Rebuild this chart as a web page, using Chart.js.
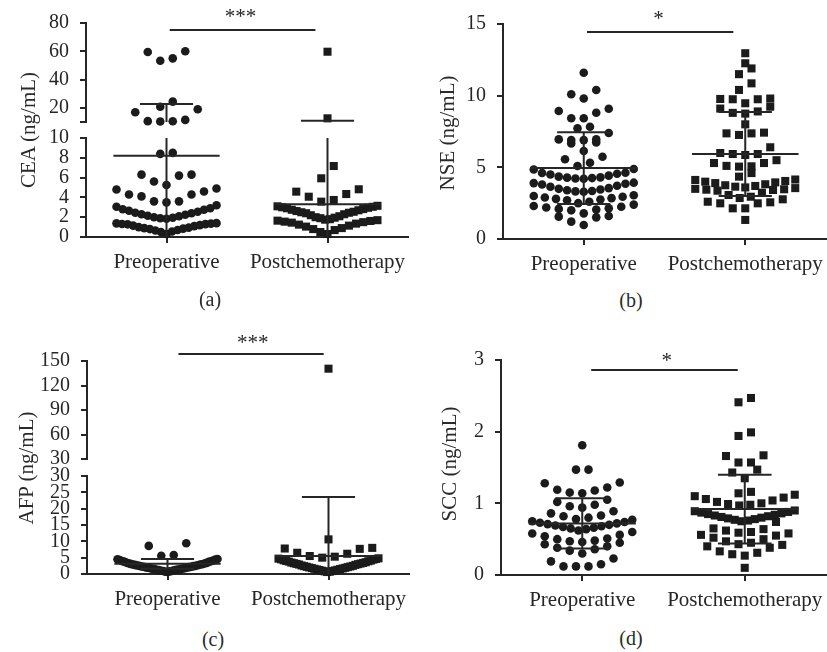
<!DOCTYPE html>
<html><head><meta charset="utf-8">
<script src="https://cdn.jsdelivr.net/npm/chart.js@4.4.1/dist/chart.umd.min.js"></script>
<style>
html,body{margin:0;padding:0;background:#fff;}
body{width:827px;height:652px;overflow:hidden;position:relative;font-family:'Liberation Serif','Times New Roman',serif;}
canvas{position:absolute;}
.lbl{position:absolute;white-space:nowrap;color:#2a2a2a;line-height:1;transform:translate(-50%,-50%);}
.yt{font-size:21px;transform:translate(-50%,-50%) rotate(-90deg);}
.pl{font-size:20px;}
</style></head><body>
<script>
// ---------------- data ----------------
const categories = ['Preoperative', 'Postchemotherapy'];

const ceaPreoperative = [60, 59.5, 55, 53.3, 24.4, 20.8, 19, 16.9, 11.5, 10.6, 10.5, 10.4, 8.5, 8.4, 6.3, 6.3, 6.2, 5.6, 5.25, 4.9, 4.8, 4.6, 4.3, 4.3, 4.1, 3.6, 3.6, 3.5, 3.2, 3.05, 2.9, 2.8, 2.75, 2.65, 2.55, 2.45, 2.4, 2.3, 2.25, 2.15, 2.1, 2.0, 1.95, 1.9, 1.85, 1.4, 1.38, 1.35, 1.32, 1.3, 1.28, 1.2, 1.15, 1.1, 1.0, 0.95, 0.9, 0.85, 0.8, 0.7, 0.65, 0.55, 0.5, 0.3];
const ceaPostchemo = [59.7, 12.6, 7.17, 5.93, 4.82, 4.58, 4.34, 4.07, 3.74, 3.57, 3.15, 3.1, 3.05, 3.0, 2.95, 2.9, 2.82, 2.75, 2.7, 2.62, 2.55, 2.5, 2.45, 2.4, 2.3, 2.2, 2.1, 2.0, 1.95, 1.9, 1.8, 1.75, 1.7, 1.65, 1.62, 1.55, 1.5, 1.45, 1.35, 1.25, 1.15, 1.05, 0.9, 0.8, 0.7, 0.5, 0.3];
const ceaMean = [8.2, 3.3];
const ceaSD = [14.5, 7.6];

const nsePreoperative = [11.6, 10.4, 10.1, 9.8, 9.09, 8.93, 8.81, 8.42, 8.42, 7.83, 7.72, 7.4, 6.95, 6.95, 6.9, 6.9, 6.74, 6.67, 6.14, 5.74, 5.56, 5.32, 5.09, 4.88, 4.85, 4.62, 4.6, 4.55, 4.5, 4.42, 4.35, 4.3, 4.28, 4.25, 4.22, 4.2, 3.93, 3.9, 3.85, 3.8, 3.72, 3.65, 3.55, 3.5, 3.45, 3.4, 3.35, 3.32, 3.3, 3.05, 3.0, 2.95, 2.9, 2.85, 2.8, 2.75, 2.7, 2.6, 2.5, 2.4, 2.3, 2.25, 2.2, 2.15, 2.1, 2.05, 2.0, 1.79, 1.6, 1.56, 1.51, 1.21, 0.98];
const nsePostchemo = [12.96, 12.26, 11.9, 11.5, 10.86, 10.4, 9.8, 9.77, 9.75, 9.75, 9.47, 9.23, 9.1, 8.9, 8.8, 8.75, 8.0, 7.42, 7.37, 7.37, 7.26, 6.4, 6.0, 5.93, 5.93, 5.86, 5.5, 5.3, 5.3, 5.1, 5.07, 5.05, 4.6, 4.35, 4.15, 4.12, 4.05, 4.0, 3.95, 3.9, 3.82, 3.75, 3.7, 3.65, 3.6, 3.55, 3.5, 3.47, 3.44, 3.42, 3.37, 3.23, 3.07, 2.95, 2.86, 2.77, 2.6, 2.56, 2.49, 2.49, 2.14, 2.14, 1.33];
const nseMean = [4.95, 5.93];
const nseSD = [2.5, 2.93];

const afpPreoperative = [9.4, 8.6, 5.8, 5.6, 4.6, 4.5, 4.4, 4.3, 4.1, 4.0, 3.9, 3.8, 3.7, 3.5, 3.4, 3.3, 3.2, 3.1, 3.0, 2.9, 2.9, 2.8, 2.7, 2.6, 2.5, 2.5, 2.4, 2.3, 2.2, 2.2, 2.1, 2.0, 2.0, 1.9, 1.8, 1.8, 1.7, 1.6, 1.5, 1.5, 1.4, 1.3, 1.3, 1.2, 1.1, 1.0, 0.9, 0.9, 0.8, 0.7, 0.6];
const afpPostchemo = [140.6, 10.6, 8.0, 7.8, 7.7, 6.5, 6.2, 5.5, 5.3, 5.0, 4.8, 4.7, 4.6, 4.5, 4.4, 4.2, 4.1, 4.0, 3.9, 3.8, 3.6, 3.5, 3.4, 3.3, 3.2, 3.1, 3.0, 2.9, 2.8, 2.6, 2.5, 2.4, 2.3, 2.2, 2.1, 2.0, 1.9, 1.8, 1.7, 1.6, 1.5, 1.4, 1.3, 1.2, 1.1, 1.0, 0.9, 0.8, 0.7, 0.6];
const afpMean = [3.1, 5.5];
const afpSD = [1.5, 18.1];

const sccPreoperative = [1.81, 1.47, 1.47, 1.29, 1.28, 1.22, 1.19, 1.18, 1.15, 1.14, 1.05, 1.02, 0.98, 0.96, 0.94, 0.89, 0.86, 0.83, 0.82, 0.8, 0.78, 0.77, 0.75, 0.74, 0.73, 0.72, 0.71, 0.7, 0.69, 0.68, 0.67, 0.66, 0.65, 0.64, 0.62, 0.6, 0.58, 0.56, 0.54, 0.51, 0.5, 0.48, 0.47, 0.46, 0.45, 0.43, 0.4, 0.38, 0.36, 0.34, 0.3, 0.23, 0.19, 0.15, 0.12, 0.12, 0.12];
const sccPostchemo = [2.47, 2.41, 1.99, 1.94, 1.67, 1.66, 1.57, 1.57, 1.47, 1.43, 1.35, 1.16, 1.14, 1.12, 1.1, 1.08, 1.06, 1.04, 1.02, 1.0, 0.99, 0.98, 0.97, 0.9, 0.89, 0.88, 0.87, 0.86, 0.85, 0.84, 0.83, 0.82, 0.81, 0.8, 0.79, 0.78, 0.77, 0.76, 0.75, 0.74, 0.65, 0.64, 0.62, 0.6, 0.59, 0.58, 0.56, 0.55, 0.52, 0.5, 0.47, 0.45, 0.43, 0.42, 0.4, 0.38, 0.33, 0.31, 0.29, 0.27, 0.1];
const sccMean = [0.72, 0.92];
const sccSD = [0.35, 0.48];

const ceaTicksUpper = [10, 20, 40, 60, 80];
const ceaTicksLower = [0, 2, 4, 6, 8, 10];
const nseTicks = [0, 5, 10, 15];
const afpTicksUpper = [30, 60, 90, 120, 150];
const afpTicksLower = [0, 5, 10, 15, 20, 25, 30];
const sccTicks = [0, 1, 2, 3];

const significance = ['***', '*', '***', '*'];
const yTitles = ['CEA (ng/mL)', 'NSE (ng/mL)', 'AFP (ng/mL)', 'SCC (ng/mL)'];
const panelLetters = ['(a)', '(b)', '(c)', '(d)'];

// ---------------- style / layout ----------------
const FONT = "'Liberation Serif', 'Times New Roman', serif";
const INK = '#262626';
const DOT = '#1b1b1b';
const PAD_TOP = 40, Y_BOX = 70, PAD_RIGHT = 14, X_BOX = 50, PAD_LOW = 14;
const MEAN_HALF = 0.33, CAP_HALF = 0.165;
const STEP_PX = 12.5, MAX_HALF_PX = 50;

// Prism-like scatter arrangement: points of a value band are spread side by side,
// lowest value in the middle.
function arrange(values, idx, pxPerY, pxPerX, binPx) {
  const sorted = values.slice().sort((a, b) => a - b);
  const h = binPx / pxPerY;
  const bins = [];
  let cur = null;
  sorted.forEach(v => {
    if (!cur || v >= cur.start + h) { cur = {start: v, vals: []}; bins.push(cur); }
    cur.vals.push(v);
  });
  const pts = [];
  bins.forEach(b => {
    const n = b.vals.length;
    const step = n > 1 ? Math.min(STEP_PX, 2 * MAX_HALF_PX / (n - 1)) : 0;
    const slots = [];
    for (let j = 0; j < n; j++) slots.push((j - (n - 1) / 2) * step);
    slots.sort((p, q) => (Math.abs(p) - Math.abs(q)) || (p - q));
    b.vals.forEach((v, i) => pts.push({x: idx + slots[i] / pxPerX, y: v}));
  });
  return pts;
}

const overlay = {
  id: 'overlay',
  afterDatasetsDraw(chart, _a, o) {
    const {ctx, chartArea: ca} = chart;
    const xs = chart.scales.x, ys = chart.scales.y;
    const X = v => xs.getPixelForValue(v), Y = v => ys.getPixelForValue(v);
    const seg = (x1, y1, x2, y2) => { ctx.beginPath(); ctx.moveTo(x1, y1); ctx.lineTo(x2, y2); ctx.stroke(); };
    const lo = ys.min, hi = ys.max;
    ctx.save();
    ctx.strokeStyle = INK; ctx.lineWidth = 2;
    ctx.save();
    ctx.beginPath(); ctx.rect(ca.left, ca.top - 2, ca.right - ca.left, ca.bottom - ca.top + 2); ctx.clip();
    o.means.forEach((m, i) => {
      const s = o.sds[i], a = m - s, b = m + s;
      if (b >= lo && a <= hi) seg(X(i), Y(Math.max(a, lo)), X(i), Y(Math.min(b, hi)));
      if (m >= lo && m <= hi) seg(X(i - MEAN_HALF), Y(m), X(i + MEAN_HALF), Y(m));
      [a, b].forEach(c => { if (c >= lo && c <= hi) seg(X(i - CAP_HALF), Y(c), X(i + CAP_HALF), Y(c)); });
    });
    ctx.restore();
    if (o.showX) seg(ca.left - 6, ca.bottom, ca.left, ca.bottom);
    if (o.sig) {
      const s = o.sig;
      seg(X(s.from), Y(s.y), X(s.to), Y(s.y));
      ctx.fillStyle = INK; ctx.font = '21px ' + FONT;
      ctx.textAlign = 'center'; ctx.textBaseline = 'alphabetic';
      ctx.fillText(s.text, X(s.tx), Y(s.ty) + 9.5);
    }
    ctx.restore();
  }
};

function segment(c) {
  const plotW = c.right - c.axisX, plotH = c.bottom - c.top;
  const xBox = c.showX ? X_BOX : 0, padB = c.showX ? 0 : PAD_LOW;
  const w = Y_BOX + plotW + PAD_RIGHT, h = PAD_TOP + plotH + xBox + padB;
  const cv = document.createElement('canvas');
  cv.width = w; cv.height = h;
  Object.assign(cv.style, {left: (c.axisX - Y_BOX) + 'px', top: (c.top - PAD_TOP) + 'px', width: w + 'px', height: h + 'px'});
  document.body.appendChild(cv);
  const pxPerY = plotH / (c.max - c.min), pxPerX = plotW / 2;
  const keep = v => v > c.lo && v <= c.max;
  const blank = c.blank || [];
  const chart = new Chart(cv, {
    type: 'scatter',
    data: {
      datasets: [
        {data: arrange(c.groups[0].filter(keep), 0, pxPerY, pxPerX, c.binPx), pointStyle: 'circle', pointRadius: 4.3,
         backgroundColor: DOT, borderColor: DOT, borderWidth: 0, clip: false},
        {data: arrange(c.groups[1].filter(keep), 1, pxPerY, pxPerX, c.binPx), pointStyle: 'rect', pointRadius: 5.7,
         backgroundColor: DOT, borderColor: DOT, borderWidth: 0, clip: false}
      ]
    },
    options: {
      responsive: false, maintainAspectRatio: false, animation: false, events: [], devicePixelRatio: 1,
      layout: {padding: {top: PAD_TOP, right: PAD_RIGHT, bottom: padB, left: 0}},
      plugins: {legend: {display: false}, tooltip: {enabled: false},
                overlay: {means: c.means, sds: c.sds, sig: c.sig, showX: c.showX}},
      scales: {
        x: {type: 'linear', min: -0.5, max: 1.5, display: c.showX,
            afterBuildTicks: s => { s.ticks = [{value: 0}, {value: 1}]; },
            afterFit: s => { s.height = c.showX ? X_BOX : 0; },
            ticks: {callback: v => categories[v] ?? '', font: {family: FONT, size: 21}, color: INK,
                    padding: 7, maxRotation: 0, autoSkip: false},
            grid: {drawOnChartArea: false, drawTicks: true, tickLength: 6, color: INK, lineWidth: 2},
            border: {display: true, color: INK, width: 2}},
        y: {type: 'linear', min: c.min, max: c.max,
            afterBuildTicks: s => { s.ticks = c.ticks.map(v => ({value: v})); },
            afterFit: s => { s.width = Y_BOX; },
            ticks: {callback: v => blank.includes(v) ? '' : String(v), font: {family: FONT, size: 20}, color: INK,
                    padding: 11, autoSkip: false},
            grid: {drawOnChartArea: false, drawTicks: true, tickLength: 6, color: INK, lineWidth: 2},
            border: {display: true, color: INK, width: 2}}
      }
    },
    plugins: [overlay]
  });
  // make the plot area exactly the wanted height, then place it
  const got = chart.chartArea.bottom - chart.chartArea.top;
  const dh = Math.round(plotH - got);
  if (dh !== 0) chart.resize(w, h + dh);
  const ca = chart.chartArea;
  cv.style.top = (c.top - ca.top) + 'px';
  cv.style.left = (c.axisX - ca.left) + 'px';
}

// (a) CEA, broken axis
segment({axisX: 86, right: 408, top: 23, bottom: 122, min: 10, max: 80, lo: 10, ticks: ceaTicksUpper, blank: [10],
  showX: false, groups: [ceaPreoperative, ceaPostchemo], means: ceaMean, sds: ceaSD, binPx: 14,
  sig: {from: 0.02, to: 0.925, y: 75, text: significance[0], tx: 0.46, ty: 86.4}});
segment({axisX: 86, right: 408, top: 138, bottom: 237, min: 0, max: 10, lo: -Infinity, ticks: ceaTicksLower,
  showX: true, groups: [ceaPreoperative, ceaPostchemo], means: ceaMean, sds: ceaSD, binPx: 14});
// (b) NSE
segment({axisX: 503, right: 826, top: 24, bottom: 239, min: 0, max: 15, lo: -Infinity, ticks: nseTicks,
  showX: true, groups: [nsePreoperative, nsePostchemo], means: nseMean, sds: nseSD, binPx: 10,
  sig: {from: 0.02, to: 0.926, y: 14.44, text: significance[1], tx: 0.463, ty: 15.56}});
// (c) AFP, broken axis
segment({axisX: 87, right: 409, top: 361, bottom: 459, min: 30, max: 150, lo: 30, ticks: afpTicksUpper,
  showX: false, groups: [afpPreoperative, afpPostchemo], means: afpMean, sds: afpSD, binPx: 14,
  sig: {from: 0.068, to: 0.97, y: 158.6, text: significance[2], tx: 0.53, ty: 176.9}});
segment({axisX: 87, right: 409, top: 476, bottom: 574, min: 0, max: 30, lo: -Infinity, ticks: afpTicksLower,
  showX: true, groups: [afpPreoperative, afpPostchemo], means: afpMean, sds: afpSD, binPx: 14});
// (d) SCC
segment({axisX: 501, right: 826, top: 360, bottom: 575, min: 0, max: 3, lo: -Infinity, ticks: sccTicks,
  showX: true, groups: [sccPreoperative, sccPostchemo], means: sccMean, sds: sccSD, binPx: 11,
  sig: {from: 0.055, to: 0.957, y: 2.86, text: significance[3], tx: 0.52, ty: 3.03}});

// axis titles and panel letters
const titlePos = [[28, 130], [447, 133], [26, 468], [449, 464]];
const letterPos = [[210, 299], [631, 300], [213, 639], [631, 638]];
function addText(txt, x, y, cls) {
  const d = document.createElement('div');
  d.className = cls; d.textContent = txt;
  d.style.left = x + 'px'; d.style.top = y + 'px';
  document.body.appendChild(d);
}
yTitles.forEach((t, i) => addText(t, titlePos[i][0], titlePos[i][1], 'lbl yt'));
panelLetters.forEach((t, i) => addText(t, letterPos[i][0], letterPos[i][1], 'lbl pl'));
</script>
</body></html>
